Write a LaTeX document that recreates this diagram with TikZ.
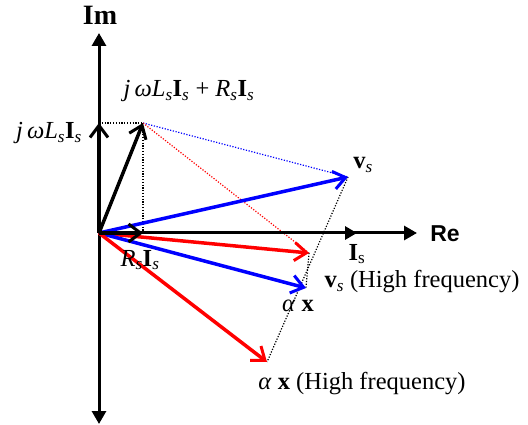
\documentclass[tikz,border=0pt]{standalone}
\usepackage{fontspec}
\setmainfont{Liberation Serif}
\newfontfamily\arialfont{Liberation Sans}
\usetikzlibrary{arrows.meta}
\definecolor{vblue}{RGB}{0,0,255}
\definecolor{vred}{RGB}{255,0,0}
\tikzset{
 axisline/.style={line width=3pt, -{Triangle[length=13pt,width=14pt]}},
 vec/.style={line width=3.5pt, -{Straight Barb[length=12pt,width=18pt,line width=3pt]}},
 guide/.style={line width=1.2pt, dash pattern=on 1.2pt off 1.6pt},
 lbl/.style={font=\fontsize{24.5}{28}\selectfont, inner sep=0pt},
}
\newcommand{\sbs}[1]{\textsubscript{\itshape #1}}
\newcommand{\sbu}[1]{\textsubscript{#1}}
\begin{document}
\begin{tikzpicture}[x=1pt,y=-1pt]
\useasboundingbox (0,0) rectangle (528,425);
\coordinate (O) at (99,233);
\coordinate (ImTop) at (99,33);
\coordinate (ImBot) at (99,424);
\coordinate (ReTip) at (417,233);
\coordinate (Is) at (357,233);
\coordinate (A) at (99,123);
\coordinate (B) at (143,123);
\coordinate (C) at (143,233);
\coordinate (V) at (348,177);
\coordinate (X) at (309,253);
\coordinate (VH) at (306,288);
\coordinate (XH) at (267,362);
% guides
\draw[guide] (A) -- (B);
\draw[guide] (B) -- (C);
\draw[guide, vblue] (B) -- (V);
\draw[guide, vred] (B) -- (X);
\draw[guide] (V) -- (XH);
\draw[guide] (X) -- (VH);
% axes
\draw[line width=3pt, {Triangle[length=13pt,width=14pt]}-{Triangle[length=13pt,width=14pt]}] (ImBot) -- (ImTop);
\draw[axisline] (O) -- (ReTip);
\draw[line width=3pt, -{Triangle[length=12pt,width=13pt]}] (O) -- (Is);
% vectors
\draw[vec, vblue] (O) -- (V);
\draw[vec, vred] (O) -- (X);
\draw[vec, vblue] (O) -- (VH);
\draw[vec, vred] (O) -- (XH);
\draw[vec, black] (O) -- (B);
\draw[vec, black] (O) -- (A);
\draw[vec, black] (O) -- (C);
% labels
\node[lbl] (tIm) at (100,15) {\fontsize{28}{30}\selectfont\bfseries Im};
\node[lbl] (tRe) at (445,234) {\arialfont\bfseries\fontsize{23}{27}\selectfont Re};
\node[lbl] (tIs) at (357,254) {\textbf{I}\sbu{s}};
\node[lbl] (tVs) at (363,165) {\textbf{v}\sbs{s}};
\node[lbl] (tVsH) at (422,282) {\textbf{v}\sbs{s} (High frequency)};
\node[lbl] (tAx) at (298,306) {\textit{α} \textbf{x}};
\node[lbl] (tAxH) at (362,384) {\textit{α} \textbf{x} (High frequency)};
\node[lbl] (tRI) at (140,260) {\textit{R}\sbs{s}\textbf{I}\sbs{s}};
\node[lbl] (tJ) at (189,91) {\textit{j\,ωL}\sbs{s}\textbf{I}\sbs{s} + \textit{R}\sbs{s}\textbf{I}\sbs{s}};
\node[lbl] (tJL) at (49,133) {\textit{j\,ωL}\sbs{s}\textbf{I}\sbs{s}};
\end{tikzpicture}
\end{document}
